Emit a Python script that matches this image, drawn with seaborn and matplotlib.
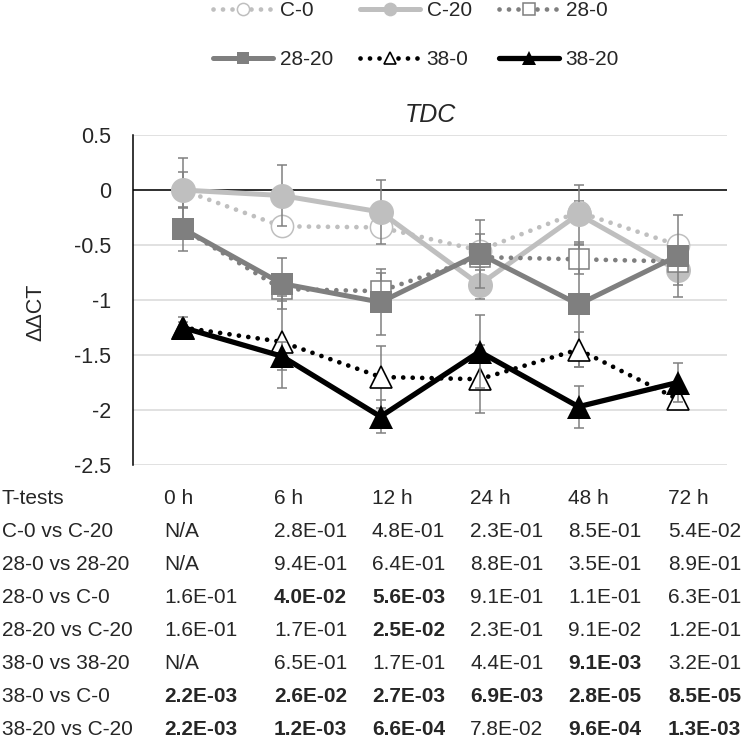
import numpy as np
import pandas as pd
import matplotlib
matplotlib.use("Agg")
import matplotlib.pyplot as plt
import seaborn as sns

sns.set_theme(style="white")
plt.rcParams["font.family"] = ["Liberation Sans", "DejaVu Sans"]
plt.rcParams["axes.unicode_minus"] = False

# time points (categories)
times = ["0 h", "6 h", "12 h", "24 h", "48 h", "72 h"]

# mean ddCT per treatment
c0 = [0.0, -0.33, -0.34, -0.55, -0.20, -0.50]
c20 = [0.0, -0.05, -0.20, -0.86, -0.22, -0.73]
t28_0 = [-0.35, -0.90, -0.92, -0.61, -0.63, -0.65]
t28_20 = [-0.35, -0.85, -1.02, -0.58, -1.04, -0.60]
t38_0 = [-1.25, -1.38, -1.70, -1.72, -1.45, -1.90]
t38_20 = [-1.25, -1.51, -2.06, -1.47, -1.97, -1.75]

# error bars
c0_err = [0.16, 0.03, 0.04, 0.15, 0.10, 0.07]
c20_err = [0.29, 0.28, 0.29, 0.13, 0.27, 0.13]
t28_0_err = [0.05, 0.11, 0.17, 0.05, 0.13, 0.05]
t28_20_err = [0.20, 0.23, 0.30, 0.31, 0.57, 0.37]
t38_0_err = [0.05, 0.42, 0.28, 0.31, 0.16, 0.08]
t38_20_err = [0.10, 0.13, 0.15, 0.33, 0.19, 0.18]

series_names = ["C-0", "C-20", "28-0", "28-20", "38-0", "38-20"]

# t-test p-values table
comparisons = ["C-0 vs C-20", "28-0 vs 28-20", "28-0 vs C-0", "28-20 vs C-20",
               "38-0 vs 38-20", "38-0 vs C-0", "38-20 vs C-20"]
p_c0_c20 = ["N/A", "2.8E-01", "4.8E-01", "2.3E-01", "8.5E-01", "5.4E-02"]
p_28_0_28_20 = ["N/A", "9.4E-01", "6.4E-01", "8.8E-01", "3.5E-01", "8.9E-01"]
p_28_0_c0 = ["1.6E-01", "4.0E-02", "5.6E-03", "9.1E-01", "1.1E-01", "6.3E-01"]
p_28_20_c20 = ["1.6E-01", "1.7E-01", "2.5E-02", "2.3E-01", "9.1E-02", "1.2E-01"]
p_38_0_38_20 = ["N/A", "6.5E-01", "1.7E-01", "4.4E-01", "9.1E-03", "3.2E-01"]
p_38_0_c0 = ["2.2E-03", "2.6E-02", "2.7E-03", "6.9E-03", "2.8E-05", "8.5E-05"]
p_38_20_c20 = ["2.2E-03", "1.2E-03", "6.6E-04", "7.8E-02", "9.6E-04", "1.3E-03"]

means = [c0, c20, t28_0, t28_20, t38_0, t38_20]
errs = [c0_err, c20_err, t28_0_err, t28_20_err, t38_0_err, t38_20_err]
pvals = [p_c0_c20, p_28_0_28_20, p_28_0_c0, p_28_20_c20, p_38_0_38_20, p_38_0_c0, p_38_20_c20]

LIGHT, MID, DARK = "#bfbfbf", "#7f7f7f", "#000000"
DOT = (0, (0.01, 2.0))
styles = {
    "C-0":   dict(color=LIGHT, ls=DOT, lw=3.4, marker="o", ms=16, mfc="white", mew=1.1),
    "C-20":  dict(color=LIGHT, ls="-", lw=3.6, marker="o", ms=18, mfc=LIGHT, mew=0),
    "28-0":  dict(color=MID, ls=DOT, lw=3.4, marker="s", ms=15, mfc="white", mew=1.1),
    "28-20": dict(color=MID, ls="-", lw=3.6, marker="s", ms=16.5, mfc=MID, mew=0),
    "38-0":  dict(color=DARK, ls=DOT, lw=3.4, marker="^", ms=16, mfc="white", mew=1.2),
    "38-20": dict(color=DARK, ls="-", lw=3.8, marker="^", ms=17.5, mfc=DARK, mew=0),
}

fig = plt.figure(figsize=(7.5, 7.44), dpi=100)
ax = fig.add_axes([133 / 750, 1 - 465 / 744, 594 / 750, 330 / 744])

x = np.arange(len(times))
for i, (name, m, e) in enumerate(zip(series_names, means, errs)):
    st = styles[name]
    ax.errorbar(x, m, yerr=e, fmt="none", ecolor="#808080", elinewidth=1.1,
                capsize=3.8, capthick=1.1, zorder=3 + 2 * i)
    df = pd.DataFrame({"t": x, "v": m})
    sns.lineplot(data=df, x="t", y="v", ax=ax, color=st["color"], linestyle=st["ls"],
                 linewidth=st["lw"], marker=st["marker"], markersize=st["ms"],
                 markerfacecolor=st["mfc"], markeredgecolor=st["color"],
                 markeredgewidth=st["mew"], dash_capstyle="round",
                 label=name, legend=False, zorder=4 + 2 * i)

ax.set_xlim(-0.5, len(times) - 0.5)
ax.set_ylim(-2.5, 0.5)
yt = np.arange(-2.5, 0.51, 0.5)
ax.set_yticks(yt)
ax.set_yticklabels([f"{v:g}" for v in yt], fontsize=15.5)
ax.set_xticks([])
ax.tick_params(axis="y", length=0, pad=16)
ax.yaxis.grid(True, color="#d9d9d9", lw=1.1)
ax.set_axisbelow(True)
ax.axhline(0, color="black", lw=1.1, zorder=2)
for s in ["top", "right", "bottom"]:
    ax.spines[s].set_visible(False)
ax.spines["left"].set_color("black")
ax.spines["left"].set_linewidth(1.1)
ax.set_xlabel("")
ax.set_ylabel("")

fig.text(36 / 750, 1 - 312 / 744, "ΔΔCT", rotation=90, ha="center", va="center", fontsize=15.5)
fig.text(430 / 750, 1 - 115 / 744, "TDC", style="italic", ha="center", va="center", fontsize=18)

# legend, row-major order
handles, labels = ax.get_legend_handles_labels()
order = [0, 3, 1, 4, 2, 5]
fig.legend([handles[k] for k in order], [labels[k] for k in order],
           loc="upper left", bbox_to_anchor=(213 / 750, 1 - 1 / 744), ncol=3,
           frameon=False, fontsize=15, handlelength=2.9, handletextpad=0.3,
           columnspacing=1.3, labelspacing=1.45, markerscale=0.55,
           borderpad=0, borderaxespad=0)

# T-test table under the plot
col_x = [164, 274, 372, 470, 568, 668]
row0 = 499
row_h = 32.9
fig.text(2 / 750, 1 - row0 / 744, "T-tests", ha="left", va="center", fontsize=15)
for j, t in enumerate(times):
    fig.text(col_x[j] / 750, 1 - row0 / 744, t, ha="left", va="center", fontsize=15)
for i, (lab, row) in enumerate(zip(comparisons, pvals)):
    y = 1 - (row0 + row_h * (i + 1)) / 744
    fig.text(2 / 750, y, lab, ha="left", va="center", fontsize=15)
    for j, p in enumerate(row):
        bold = p != "N/A" and float(p) < 0.05
        fig.text(col_x[j] / 750, y, p, ha="left", va="center", fontsize=15,
                 fontweight="bold" if bold else "normal")

fig.savefig("out.png", dpi=100)
